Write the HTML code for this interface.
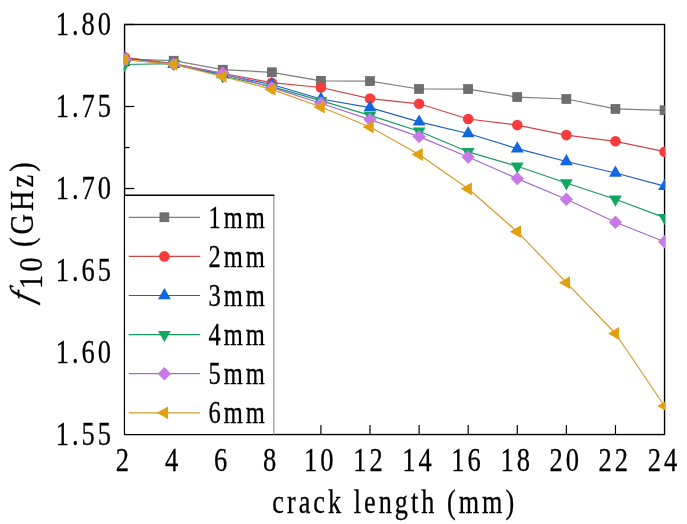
<!DOCTYPE html>
<html><head><meta charset="utf-8"><title>f10 vs crack length</title>
<style>html,body{margin:0;padding:0;background:#fff;overflow:hidden;}svg{display:block;}</style>
</head><body>
<svg width="687" height="524" viewBox="0 0 687 524" font-family='"Liberation Serif", serif' fill="#000">
<style>text{stroke:#000;stroke-width:0.3px;}</style>
<defs><clipPath id="pc"><rect x="123.85" y="23.8" width="541.4" height="411.45"/></clipPath></defs>
<line x1="124.55" y1="24.50" x2="134.25" y2="24.50" stroke="#000" stroke-width="1.3"/>
<line x1="124.55" y1="65.50" x2="129.55" y2="65.50" stroke="#000" stroke-width="1.3"/>
<line x1="124.55" y1="106.51" x2="134.25" y2="106.51" stroke="#000" stroke-width="1.3"/>
<line x1="124.55" y1="147.52" x2="129.55" y2="147.52" stroke="#000" stroke-width="1.3"/>
<line x1="124.55" y1="188.52" x2="134.25" y2="188.52" stroke="#000" stroke-width="1.3"/>
<line x1="320.91" y1="434.55" x2="320.91" y2="425.05" stroke="#000" stroke-width="1.2"/>
<line x1="370.00" y1="434.55" x2="370.00" y2="425.05" stroke="#000" stroke-width="1.2"/>
<line x1="419.10" y1="434.55" x2="419.10" y2="425.05" stroke="#000" stroke-width="1.2"/>
<line x1="468.19" y1="434.55" x2="468.19" y2="425.05" stroke="#000" stroke-width="1.2"/>
<line x1="517.28" y1="434.55" x2="517.28" y2="425.05" stroke="#000" stroke-width="1.2"/>
<line x1="566.37" y1="434.55" x2="566.37" y2="425.05" stroke="#000" stroke-width="1.2"/>
<line x1="615.46" y1="434.55" x2="615.46" y2="425.05" stroke="#000" stroke-width="1.2"/>
<rect x="124.55" y="24.5" width="540.0" height="410.05" fill="none" stroke="#000" stroke-width="1.4"/>
<g clip-path="url(#pc)">
<polyline points="124.55,59.00 173.64,60.70 222.73,69.70 271.82,72.30 320.91,80.80 370.00,81.10 419.10,89.00 468.19,89.10 517.28,97.10 566.37,99.00 615.46,108.90 664.55,110.30" fill="none" stroke="#7f7f7f" stroke-width="1.2" stroke-linejoin="round"/>
<polyline points="124.55,57.30 173.64,63.50 222.73,73.50 271.82,82.70 320.91,87.50 370.00,98.60 419.10,103.80 468.19,119.00 517.28,125.10 566.37,135.10 615.46,141.30 664.55,151.70" fill="none" stroke="#d04646" stroke-width="1.2" stroke-linejoin="round"/>
<polyline points="124.55,58.40 173.64,64.30 222.73,74.50 271.82,84.50 320.91,99.00 370.00,107.60 419.10,121.90 468.19,133.50 517.28,148.70 566.37,161.50 615.46,173.00 664.55,186.20" fill="none" stroke="#1f5fc2" stroke-width="1.2" stroke-linejoin="round"/>
<polyline points="124.55,64.50 173.64,63.60 222.73,76.00 271.82,86.60 320.91,100.70 370.00,115.40 419.10,131.30 468.19,151.80 517.28,166.30 566.37,183.00 615.46,199.30 664.55,217.60" fill="none" stroke="#189a62" stroke-width="1.2" stroke-linejoin="round"/>
<polyline points="124.55,59.50 173.64,64.30 222.73,73.20 271.82,87.60 320.91,103.30 370.00,119.60 419.10,136.60 468.19,157.00 517.28,178.60 566.37,199.30 615.46,222.20 664.55,241.80" fill="none" stroke="#a86cca" stroke-width="1.2" stroke-linejoin="round"/>
<polyline points="124.55,59.30 173.64,64.30 222.73,76.50 271.82,89.40 320.91,107.00 370.00,127.00 419.10,154.50 468.19,188.80 517.28,231.70 566.37,282.70 615.46,333.50 664.55,406.00" fill="none" stroke="#d69c2c" stroke-width="1.2" stroke-linejoin="round"/>
<rect x="120.05" y="54.50" width="9.0" height="9.0" fill="#6f6f6f" stroke="#5a5a5a" stroke-width="0.6"/>
<rect x="169.14" y="56.20" width="9.0" height="9.0" fill="#6f6f6f" stroke="#5a5a5a" stroke-width="0.6"/>
<rect x="218.23" y="65.20" width="9.0" height="9.0" fill="#6f6f6f" stroke="#5a5a5a" stroke-width="0.6"/>
<rect x="267.32" y="67.80" width="9.0" height="9.0" fill="#6f6f6f" stroke="#5a5a5a" stroke-width="0.6"/>
<rect x="316.41" y="76.30" width="9.0" height="9.0" fill="#6f6f6f" stroke="#5a5a5a" stroke-width="0.6"/>
<rect x="365.50" y="76.60" width="9.0" height="9.0" fill="#6f6f6f" stroke="#5a5a5a" stroke-width="0.6"/>
<rect x="414.60" y="84.50" width="9.0" height="9.0" fill="#6f6f6f" stroke="#5a5a5a" stroke-width="0.6"/>
<rect x="463.69" y="84.60" width="9.0" height="9.0" fill="#6f6f6f" stroke="#5a5a5a" stroke-width="0.6"/>
<rect x="512.78" y="92.60" width="9.0" height="9.0" fill="#6f6f6f" stroke="#5a5a5a" stroke-width="0.6"/>
<rect x="561.87" y="94.50" width="9.0" height="9.0" fill="#6f6f6f" stroke="#5a5a5a" stroke-width="0.6"/>
<rect x="610.96" y="104.40" width="9.0" height="9.0" fill="#6f6f6f" stroke="#5a5a5a" stroke-width="0.6"/>
<rect x="660.05" y="105.80" width="9.0" height="9.0" fill="#6f6f6f" stroke="#5a5a5a" stroke-width="0.6"/>
<circle cx="124.55" cy="57.30" r="5.3" fill="#f83c3c"/>
<circle cx="173.64" cy="63.50" r="5.3" fill="#f83c3c"/>
<circle cx="222.73" cy="73.50" r="5.3" fill="#f83c3c"/>
<circle cx="271.82" cy="82.70" r="5.3" fill="#f83c3c"/>
<circle cx="320.91" cy="87.50" r="5.3" fill="#f83c3c"/>
<circle cx="370.00" cy="98.60" r="5.3" fill="#f83c3c"/>
<circle cx="419.10" cy="103.80" r="5.3" fill="#f83c3c"/>
<circle cx="468.19" cy="119.00" r="5.3" fill="#f83c3c"/>
<circle cx="517.28" cy="125.10" r="5.3" fill="#f83c3c"/>
<circle cx="566.37" cy="135.10" r="5.3" fill="#f83c3c"/>
<circle cx="615.46" cy="141.30" r="5.3" fill="#f83c3c"/>
<circle cx="664.55" cy="151.70" r="5.3" fill="#f83c3c"/>
<polygon points="124.55,51.01 118.15,62.09 130.95,62.09" fill="#1068e0"/>
<polygon points="173.64,56.91 167.24,67.99 180.04,67.99" fill="#1068e0"/>
<polygon points="222.73,67.11 216.33,78.19 229.13,78.19" fill="#1068e0"/>
<polygon points="271.82,77.11 265.42,88.19 278.22,88.19" fill="#1068e0"/>
<polygon points="320.91,91.61 314.51,102.69 327.31,102.69" fill="#1068e0"/>
<polygon points="370.00,100.21 363.60,111.29 376.40,111.29" fill="#1068e0"/>
<polygon points="419.10,114.51 412.70,125.59 425.50,125.59" fill="#1068e0"/>
<polygon points="468.19,126.11 461.79,137.19 474.59,137.19" fill="#1068e0"/>
<polygon points="517.28,141.31 510.88,152.39 523.68,152.39" fill="#1068e0"/>
<polygon points="566.37,154.11 559.97,165.19 572.77,165.19" fill="#1068e0"/>
<polygon points="615.46,165.61 609.06,176.69 621.86,176.69" fill="#1068e0"/>
<polygon points="664.55,178.81 658.15,189.89 670.95,189.89" fill="#1068e0"/>
<polygon points="124.55,71.89 118.15,60.81 130.95,60.81" fill="#10a860"/>
<polygon points="173.64,70.99 167.24,59.91 180.04,59.91" fill="#10a860"/>
<polygon points="222.73,83.39 216.33,72.31 229.13,72.31" fill="#10a860"/>
<polygon points="271.82,93.99 265.42,82.91 278.22,82.91" fill="#10a860"/>
<polygon points="320.91,108.09 314.51,97.01 327.31,97.01" fill="#10a860"/>
<polygon points="370.00,122.79 363.60,111.71 376.40,111.71" fill="#10a860"/>
<polygon points="419.10,138.69 412.70,127.61 425.50,127.61" fill="#10a860"/>
<polygon points="468.19,159.19 461.79,148.11 474.59,148.11" fill="#10a860"/>
<polygon points="517.28,173.69 510.88,162.61 523.68,162.61" fill="#10a860"/>
<polygon points="566.37,190.39 559.97,179.31 572.77,179.31" fill="#10a860"/>
<polygon points="615.46,206.69 609.06,195.61 621.86,195.61" fill="#10a860"/>
<polygon points="664.55,224.99 658.15,213.91 670.95,213.91" fill="#10a860"/>
<polygon points="124.55,52.80 131.25,59.50 124.55,66.20 117.85,59.50" fill="#c878e8"/>
<polygon points="173.64,57.60 180.34,64.30 173.64,71.00 166.94,64.30" fill="#c878e8"/>
<polygon points="222.73,66.50 229.43,73.20 222.73,79.90 216.03,73.20" fill="#c878e8"/>
<polygon points="271.82,80.90 278.52,87.60 271.82,94.30 265.12,87.60" fill="#c878e8"/>
<polygon points="320.91,96.60 327.61,103.30 320.91,110.00 314.21,103.30" fill="#c878e8"/>
<polygon points="370.00,112.90 376.70,119.60 370.00,126.30 363.30,119.60" fill="#c878e8"/>
<polygon points="419.10,129.90 425.80,136.60 419.10,143.30 412.40,136.60" fill="#c878e8"/>
<polygon points="468.19,150.30 474.89,157.00 468.19,163.70 461.49,157.00" fill="#c878e8"/>
<polygon points="517.28,171.90 523.98,178.60 517.28,185.30 510.58,178.60" fill="#c878e8"/>
<polygon points="566.37,192.60 573.07,199.30 566.37,206.00 559.67,199.30" fill="#c878e8"/>
<polygon points="615.46,215.50 622.16,222.20 615.46,228.90 608.76,222.20" fill="#c878e8"/>
<polygon points="664.55,235.10 671.25,241.80 664.55,248.50 657.85,241.80" fill="#c878e8"/>
<polygon points="117.16,59.30 128.24,52.90 128.24,65.70" fill="#e0a010"/>
<polygon points="166.25,64.30 177.34,57.90 177.34,70.70" fill="#e0a010"/>
<polygon points="215.34,76.50 226.43,70.10 226.43,82.90" fill="#e0a010"/>
<polygon points="264.43,89.40 275.52,83.00 275.52,95.80" fill="#e0a010"/>
<polygon points="313.52,107.00 324.61,100.60 324.61,113.40" fill="#e0a010"/>
<polygon points="362.61,127.00 373.70,120.60 373.70,133.40" fill="#e0a010"/>
<polygon points="411.71,154.50 422.79,148.10 422.79,160.90" fill="#e0a010"/>
<polygon points="460.80,188.80 471.88,182.40 471.88,195.20" fill="#e0a010"/>
<polygon points="509.89,231.70 520.97,225.30 520.97,238.10" fill="#e0a010"/>
<polygon points="558.98,282.70 570.06,276.30 570.06,289.10" fill="#e0a010"/>
<polygon points="608.07,333.50 619.15,327.10 619.15,339.90" fill="#e0a010"/>
<polygon points="657.16,406.00 668.24,399.60 668.24,412.40" fill="#e0a010"/>
</g>
<rect x="125.25" y="195.3" width="148.60000000000002" height="238.55" fill="#fff" stroke="none"/>
<line x1="273.85" y1="195.3" x2="273.85" y2="434.55" stroke="#8a8a8a" stroke-width="1.1"/>
<line x1="124.55" y1="195.3" x2="274.35" y2="195.3" stroke="#000" stroke-width="1.4"/>
<line x1="128.7" y1="217.3" x2="200.1" y2="217.3" stroke="#7f7f7f" stroke-width="1.2"/>
<rect x="159.90" y="212.80" width="9.0" height="9.0" fill="#6f6f6f" stroke="#5a5a5a" stroke-width="0.6"/>
<text transform="translate(208.60,227.90) scale(0.8,1)" font-size="30.6" letter-spacing="3.7" text-anchor="start" >1mm</text>
<line x1="128.7" y1="256.4" x2="200.1" y2="256.4" stroke="#d04646" stroke-width="1.2"/>
<circle cx="164.40" cy="256.40" r="5.3" fill="#f83c3c"/>
<text transform="translate(208.60,267.00) scale(0.8,1)" font-size="30.6" letter-spacing="3.7" text-anchor="start" >2mm</text>
<line x1="128.7" y1="295.5" x2="200.1" y2="295.5" stroke="#1f5fc2" stroke-width="1.2"/>
<polygon points="164.40,288.11 158.00,299.19 170.80,299.19" fill="#1068e0"/>
<text transform="translate(208.60,306.10) scale(0.8,1)" font-size="30.6" letter-spacing="3.7" text-anchor="start" >3mm</text>
<line x1="128.7" y1="334.6" x2="200.1" y2="334.6" stroke="#189a62" stroke-width="1.2"/>
<polygon points="164.40,341.99 158.00,330.91 170.80,330.91" fill="#10a860"/>
<text transform="translate(208.60,345.20) scale(0.8,1)" font-size="30.6" letter-spacing="3.7" text-anchor="start" >4mm</text>
<line x1="128.7" y1="373.7" x2="200.1" y2="373.7" stroke="#a86cca" stroke-width="1.2"/>
<polygon points="164.40,367.00 171.10,373.70 164.40,380.40 157.70,373.70" fill="#c878e8"/>
<text transform="translate(208.60,384.30) scale(0.8,1)" font-size="30.6" letter-spacing="3.7" text-anchor="start" >5mm</text>
<line x1="128.7" y1="412.8" x2="200.1" y2="412.8" stroke="#d69c2c" stroke-width="1.2"/>
<polygon points="157.01,412.80 168.09,406.40 168.09,419.20" fill="#e0a010"/>
<text transform="translate(208.60,423.40) scale(0.8,1)" font-size="30.6" letter-spacing="3.7" text-anchor="start" >6mm</text>
<text transform="translate(114.00,34.90) scale(0.77,1)" font-size="34.4" letter-spacing="3.9" text-anchor="end" >1.80</text>
<text transform="translate(114.00,116.90) scale(0.77,1)" font-size="34.4" letter-spacing="3.9" text-anchor="end" >1.75</text>
<text transform="translate(114.00,198.90) scale(0.77,1)" font-size="34.4" letter-spacing="3.9" text-anchor="end" >1.70</text>
<text transform="translate(114.00,280.90) scale(0.77,1)" font-size="34.4" letter-spacing="3.9" text-anchor="end" >1.65</text>
<text transform="translate(114.00,362.90) scale(0.77,1)" font-size="34.4" letter-spacing="3.9" text-anchor="end" >1.60</text>
<text transform="translate(114.00,444.90) scale(0.77,1)" font-size="34.4" letter-spacing="3.9" text-anchor="end" >1.55</text>
<text transform="translate(123.95,470.50) scale(0.77,1)" font-size="34.4" letter-spacing="3.9" text-anchor="middle" >2</text>
<text transform="translate(173.04,470.50) scale(0.77,1)" font-size="34.4" letter-spacing="3.9" text-anchor="middle" >4</text>
<text transform="translate(222.13,470.50) scale(0.77,1)" font-size="34.4" letter-spacing="3.9" text-anchor="middle" >6</text>
<text transform="translate(271.22,470.50) scale(0.77,1)" font-size="34.4" letter-spacing="3.9" text-anchor="middle" >8</text>
<text transform="translate(320.31,470.50) scale(0.77,1)" font-size="34.4" letter-spacing="3.9" text-anchor="middle" >10</text>
<text transform="translate(369.40,470.50) scale(0.77,1)" font-size="34.4" letter-spacing="3.9" text-anchor="middle" >12</text>
<text transform="translate(418.50,470.50) scale(0.77,1)" font-size="34.4" letter-spacing="3.9" text-anchor="middle" >14</text>
<text transform="translate(467.59,470.50) scale(0.77,1)" font-size="34.4" letter-spacing="3.9" text-anchor="middle" >16</text>
<text transform="translate(516.68,470.50) scale(0.77,1)" font-size="34.4" letter-spacing="3.9" text-anchor="middle" >18</text>
<text transform="translate(565.77,470.50) scale(0.77,1)" font-size="34.4" letter-spacing="3.9" text-anchor="middle" >20</text>
<text transform="translate(614.86,470.50) scale(0.77,1)" font-size="34.4" letter-spacing="3.9" text-anchor="middle" >22</text>
<text transform="translate(663.95,470.50) scale(0.77,1)" font-size="34.4" letter-spacing="3.9" text-anchor="middle" >24</text>
<text transform="translate(272.30,512.80) scale(0.8,1)" font-size="32.7" letter-spacing="3.8" text-anchor="start" >crack length (mm)</text>
<g transform="translate(32.5,305.4) rotate(-90)" font-size="33"><text transform="translate(1.6,0) scale(0.97,1) skewX(-16)" font-style="italic">f</text><text transform="translate(16.5,9) scale(0.86,1)" letter-spacing="3.6">10</text><text transform="translate(58.3,0) scale(0.86,1)" letter-spacing="3.6">(GHz)</text></g>
</svg>
</body></html>
